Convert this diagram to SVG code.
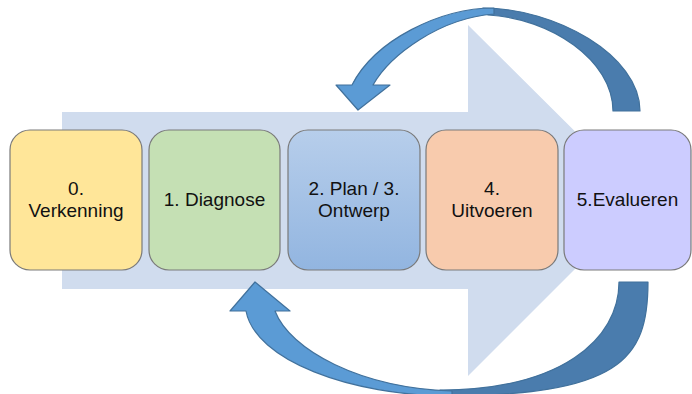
<svg xmlns="http://www.w3.org/2000/svg" width="692" height="394" viewBox="0 0 692 394">
  <style>
    .box { stroke: #7a7a7a; stroke-width: 1.2; }
    .label { font-family: "Liberation Sans", Arial, sans-serif; font-size: 19px; fill: #111111; text-anchor: middle; }
    .arm-front { fill: #5B9BD5; stroke: #41719C; stroke-width: 1.2; stroke-linejoin: round; }
    .arm-back { fill: #4A7CAD; stroke: #41719C; stroke-width: 1.2; stroke-linejoin: round; }
  </style>
  <defs>
    <linearGradient id="blueFill" x1="0" y1="0" x2="0" y2="1">
      <stop offset="0" stop-color="#B7CEEB"/>
      <stop offset="1" stop-color="#92B5E0"/>
    </linearGradient>
  </defs>

  <rect width="692" height="394" fill="#ffffff"/>

  <!-- broad process arrow behind the phases -->
  <polygon id="process-arrow" points="62,112 468,112 468,25 644,200 468,376 468,289 62,289" fill="#D0DCEE"/>

  <!-- feedback loops -->
  <g id="connectors">
    <!-- upper loop: from evaluation back to plan -->
    <path class="arm-back" d="M483,8 C555,8 640,55 640,111 L613,111 C613,60 550,18 488,15 Z"/>
    <path class="arm-front" d="M494,8 C440,8 375,40 352,85 L336,85 L358,110 L390,85 L373,85 C390,55 440,18 494,14 Z"/>
    <!-- lower loop: from evaluation back to diagnosis -->
    <path class="arm-back" d="M619,282 L648,282 C648,360 620,396 440,396 L440,390 C560,390 619,340 619,282 Z"/>
    <path class="arm-front" d="M452,396 C350,396 255,360 246,311 L230,311 L255,282 L290,311 L275,311 C290,350 360,388 452,391 Z"/>
  </g>

  <g id="phase-0">
    <rect class="box" x="10" y="130" width="132" height="140" rx="20" fill="#FFE699"/>
    <text class="label" x="76" y="195">0.</text>
    <text class="label" x="76" y="217">Verkenning</text>
  </g>

  <g id="phase-1">
    <rect class="box" x="149" y="130" width="131" height="140" rx="20" fill="#C5E0B4"/>
    <text class="label" x="214.5" y="206">1. Diagnose</text>
  </g>

  <g id="phase-2-3">
    <rect class="box" x="288" y="130" width="132" height="140" rx="20" fill="url(#blueFill)"/>
    <text class="label" x="354" y="195">2. Plan / 3.</text>
    <text class="label" x="354" y="217">Ontwerp</text>
  </g>

  <g id="phase-4">
    <rect class="box" x="426" y="130" width="132" height="140" rx="20" fill="#F8CBAD"/>
    <text class="label" x="492" y="195">4.</text>
    <text class="label" x="492" y="217">Uitvoeren</text>
  </g>

  <g id="phase-5">
    <rect class="box" x="564" y="130" width="127" height="140" rx="20" fill="#CCCCFF"/>
    <text class="label" x="627.5" y="206">5.Evalueren</text>
  </g>
</svg>
